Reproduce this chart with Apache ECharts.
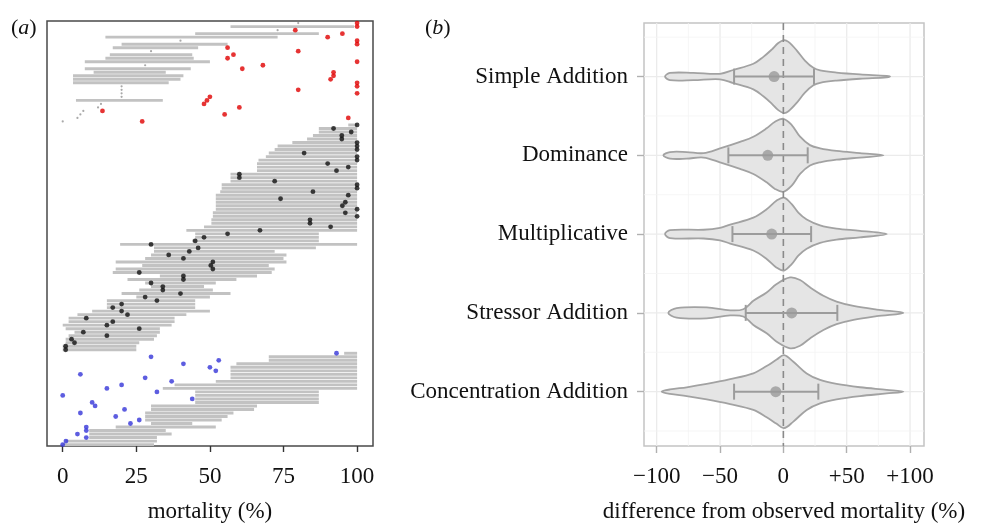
<!DOCTYPE html>
<html>
<head>
<meta charset="utf-8">
<script src="https://cdn.jsdelivr.net/npm/echarts@6/dist/echarts.min.js"></script>
<style>
  html, body { margin: 0; padding: 0; background: #fff; }
  #chart { width: 993px; height: 523px; }
</style>
</head>
<body>
<div id="chart"></div>
<script>
// ---- panel (a): predicted range (low-high) and observed mortality per study row ----
// rows where observed is above the predicted range
const redLow  = [80, 57, 73, 45, 14.5, 40, 20, 17, 30, 16, 14.5, 7.5, 28, 7.5, 10.5, 3.5, 3.5, 3.5, 20, 20, 20, 20, 4.5, 13, 12, 7, 6, 5, 0];
const redHigh = [80, 99, 73, 87, 73, 40, 56, 46, 30, 44, 44.5, 50, 28, 43.5, 35, 41, 40, 36, 20, 20, 20, 20, 34, 13, 12, 7, 6, 5, 0];
const redObs  = [100, 100, 79, 95, 90, 100, 100, 56, 80, 58, 56, 100, 68, 61, 92, 92, 91, 100, 100, 80, 100, 50, 49, 48, 60, 13.5, 55, 97, 27];

// rows where observed falls inside the predicted range
const blackLow  = [97, 87, 87, 85, 83, 78, 73, 72, 70, 69, 66.5, 66, 66, 66, 57, 57, 57, 54, 54, 53.5,
                   52, 52, 52, 52, 52, 51, 51, 50.5, 50.5, 48, 42, 45, 45, 44, 19.5, 31, 31, 30, 28, 18,
                   27, 18, 17, 33, 22, 28, 30, 26, 20, 25, 15, 15, 15, 10, 5, 2, 2, 0, 1, 4,
                   2, 1, 1, 0, 0];
const blackHigh = [100, 100, 100, 100, 100, 100, 100, 100, 100, 100, 100, 100, 100, 100, 100, 100, 100, 100, 100, 100,
                   100, 100, 100, 100, 100, 100, 100, 100, 100, 100, 100, 87, 87, 87, 100, 86, 72, 76, 75, 76,
                   70, 72, 71, 66, 59, 52, 48, 51, 57, 50, 45, 45, 45, 50, 42, 38, 38, 37, 33, 33,
                   32, 31, 26, 25, 25];
const blackObs  = [100, 92, 98, 94.8, 94.8, 100, 100, 100, 82, 100, 100, 90, 97, 93, 60, 60, 72, 100, 100, 85,
                   97, 74, 96, 95, 100, 96, 100, 84, 84, 91, 67, 56, 48, 45, 30, 46, 43, 36, 41, 51,
                   50.3, 51, 26, 41, 41, 30, 34, 34, 40, 28, 32, 20, 17, 20, 22, 8, 17, 15, 26, 7,
                   15, 3, 4, 1, 1];

// rows where observed is below the predicted range
const blueLow  = [95.6, 70, 70, 59, 57, 57, 57, 57, 52, 38, 34, 45, 45, 45, 45, 30, 30, 28, 28, 28, 30, 18, 9, 9, 9, 1, 0];
const blueHigh = [100, 100, 100, 100, 100, 100, 100, 100, 100, 100, 100, 87, 87, 87, 87, 66, 65, 58, 56, 54, 44, 52, 35, 37, 32, 32, 31];
const blueObs  = [93, 30, 53, 41, 50, 52, 6, 28, 37, 20, 15, 32, 0, 44, 10, 11, 21, 6, 18, 26, 23, 8, 8, 5, 8, 1.1, 0];

const mortalityTicks = [0, 25, 50, 75, 100];

// ---- panel (b): difference from observed mortality per model ----
const models = ['Simple Addition', 'Dominance', 'Multiplicative', 'Stressor Addition', 'Concentration Addition'];
const meanDiff = [-7.3, -12.3, -9.2, 6.6, -6];
const ciLow    = [-38.9, -43.4, -40.2, -29.7, -38.9];
const ciHigh   = [24.2, 19.2, 21.9, 42.6, 27.6];

// violin outlines: [difference, relative density]
const densSimple = [[-93.4, 0], [-89.5, 0.10], [-71, 0.10], [-50, 0.075], [-39.5, 0.18], [-23.7, 0.35], [-15.8, 0.54],
                    [-9.2, 0.74], [-4, 0.92], [0.5, 1], [4, 0.95], [10.5, 0.72], [17, 0.44], [23.7, 0.24], [29, 0.17],
                    [42, 0.11], [60.5, 0.06], [81.6, 0.02], [84.2, 0]];
const densDominance = [[-94.7, 0], [-89.5, 0.09], [-76.3, 0.09], [-63, 0.06], [-50, 0.19], [-34.2, 0.37], [-23.7, 0.51],
                       [-13.2, 0.74], [-6.6, 0.92], [0, 1], [6.6, 0.83], [13.2, 0.51], [21, 0.28], [29, 0.19],
                       [42, 0.12], [60.5, 0.06], [79, 0]];
const densMultiplicative = [[-93.4, 0], [-89.5, 0.11], [-63, 0.12], [-50, 0.17], [-42, 0.26], [-23.7, 0.45], [-13.2, 0.68],
                            [-5.3, 0.92], [0.5, 1], [6.6, 0.82], [11.8, 0.59], [18.4, 0.4], [29, 0.24], [42, 0.15],
                            [60.5, 0.09], [81.6, 0]];
const densStressor = [[-90.8, 0], [-84.2, 0.13], [-60.5, 0.15], [-42, 0.07], [-31.6, 0.1], [-23.7, 0.33], [-13.2, 0.56],
                      [-5.3, 0.79], [5.3, 0.97], [13.2, 0.9], [21, 0.7], [31.6, 0.47], [42, 0.31], [55.3, 0.19],
                      [73.7, 0.09], [94.7, 0]];
const densConcentration = [[-96, 0], [-89.5, 0.06], [-76.3, 0.12], [-60.5, 0.21], [-42, 0.34], [-23.7, 0.5], [-13.2, 0.7],
                           [-5.3, 0.88], [0.5, 1], [7.9, 0.82], [18.4, 0.5], [29, 0.32], [42, 0.21], [60.5, 0.12],
                           [81.6, 0.05], [94.7, 0]];
const violins = [densSimple, densDominance, densMultiplicative, densStressor, densConcentration];

const diffTicks = [-100, -50, 0, 50, 100];
const diffTickLabels = ['\u2212100', '\u221250', '0', '+50', '+100'];
const diffMinor = [-75, -25, 25, 75];
const modelPos = [1, 2, 3, 4, 5];
const modelMinor = [0.5, 1.5, 2.5, 3.5, 4.5, 5.5];

// ------------------------------------------------------------------
const FONT = 'Liberation Serif';
const VIOLIN_HALF = 36.5;

function rowsOf(lo, hi, obs, offset) {
  return lo.map((v, i) => [v, hi[i], offset + i, obs[i]]);
}
const redRows = rowsOf(redLow, redHigh, redObs, 0);
const blackRows = rowsOf(blackLow, blackHigh, blackObs, redLow.length);
const blueRows = rowsOf(blueLow, blueHigh, blueObs, redLow.length + blackLow.length);
const allRows = redRows.concat(blackRows, blueRows);
const nRows = allRows.length;

const gridLines = []
  .concat(diffTicks.map(v => [v, 1, 0, 1]))
  .concat(diffMinor.map(v => [v, 1, 0, 0]))
  .concat(modelPos.map(v => [0, v, 1, 1]))
  .concat(modelMinor.map(v => [0, v, 1, 0]));

const panelTag = {
  p: { fontFamily: FONT, fontSize: 22, fontWeight: 'normal', color: '#111' },
  i: { fontFamily: FONT, fontSize: 22, fontWeight: 'normal', fontStyle: 'italic', color: '#111' }
};

const chart = echarts.init(document.getElementById('chart'));
chart.setOption({
  animation: false,
  backgroundColor: '#fff',
  title: [
    { text: '{p|(}{i|a}{p|)}', left: 6, top: 12, textStyle: { fontWeight: 'normal', rich: panelTag } },
    { text: '{p|(}{i|b}{p|)}', left: 420, top: 12, textStyle: { fontWeight: 'normal', rich: panelTag } }
  ],
  grid: [
    { left: 47, top: 21, width: 326, height: 425, show: true, borderColor: '#4a4a4a', borderWidth: 1.5,
      containLabel: false, outerBoundsMode: 'none' },
    { left: 644, top: 23, width: 280, height: 423, show: true, borderColor: '#c4c4c4', borderWidth: 1.5,
      containLabel: false, outerBoundsMode: 'none' }
  ],
  xAxis: [
    {
      gridIndex: 0, type: 'value', min: -5.34, max: 105.4, position: 'bottom',
      axisLine: { show: false, onZero: false },
      axisTick: { show: true, customValues: mortalityTicks, length: 6, lineStyle: { color: '#333', width: 1.4 } },
      axisLabel: { customValues: mortalityTicks, fontFamily: FONT, fontSize: 23, color: '#111', margin: 19 },
      splitLine: { show: false },
      name: 'mortality (%)', nameLocation: 'middle', nameGap: 54,
      nameTextStyle: { fontFamily: FONT, fontSize: 23, color: '#111' }
    },
    {
      gridIndex: 1, type: 'value', min: -110, max: 111, position: 'bottom',
      axisLine: { show: false, onZero: false },
      axisTick: { show: true, customValues: diffTicks, length: 7, lineStyle: { color: '#b0b0b0', width: 1.4 } },
      axisLabel: {
        customValues: diffTicks, fontFamily: FONT, fontSize: 23, color: '#111', margin: 19,
        formatter: v => diffTickLabels[diffTicks.indexOf(v)]
      },
      splitLine: { show: false },
      name: 'difference from observed mortality (%)', nameLocation: 'middle', nameGap: 54,
      nameTextStyle: { fontFamily: FONT, fontSize: 23, color: '#111' }
    }
  ],
  yAxis: [
    { gridIndex: 0, type: 'value', inverse: true, min: -0.6, max: nRows - 0.6, show: false },
    {
      gridIndex: 1, type: 'value', inverse: true, min: 0.32, max: 5.69,
      axisLine: { show: false, onZero: false },
      axisTick: { show: true, customValues: modelPos, length: 7, lineStyle: { color: '#b0b0b0', width: 1.4 } },
      axisLabel: {
        customValues: modelPos, fontFamily: FONT, fontSize: 23, color: '#111', margin: 16,
        formatter: v => models[v - 1]
      },
      splitLine: { show: false }
    }
  ],
  series: [
    // panel (a) range lines
    {
      type: 'custom', xAxisIndex: 0, yAxisIndex: 0, z: 2, silent: true,
      data: allRows, encode: { x: [0, 1], y: 2 },
      renderItem: (params, api) => {
        const a = api.coord([api.value(0), api.value(2)]);
        const b = api.coord([api.value(1), api.value(2)]);
        if (b[0] - a[0] < 1) {
          return { type: 'circle', shape: { cx: a[0], cy: a[1], r: 1.1 }, style: { fill: '#a9a9a9' } };
        }
        return { type: 'line', shape: { x1: a[0], y1: a[1], x2: b[0], y2: b[1] },
                 style: { stroke: '#c2c2c2', lineWidth: 2.9 } };
      }
    },
    { type: 'scatter', xAxisIndex: 0, yAxisIndex: 0, z: 3, symbolSize: 4.8,
      itemStyle: { color: '#e00000' }, data: redRows.map(r => [r[3], r[2]]) },
    { type: 'scatter', xAxisIndex: 0, yAxisIndex: 0, z: 3, symbolSize: 4.8,
      itemStyle: { color: '#111111' }, data: blackRows.map(r => [r[3], r[2]]) },
    { type: 'scatter', xAxisIndex: 0, yAxisIndex: 0, z: 3, symbolSize: 4.8,
      itemStyle: { color: '#3535d8' }, data: blueRows.map(r => [r[3], r[2]]) },

    // panel (b) grid lines
    {
      type: 'custom', xAxisIndex: 1, yAxisIndex: 1, z: 1, silent: true,
      data: gridLines,
      renderItem: (params, api) => {
        const cs = params.coordSys;
        const major = api.value(3) === 1;
        const style = { stroke: major ? '#ebebeb' : '#f4f4f4', lineWidth: major ? 1.3 : 0.8 };
        if (api.value(2) === 0) {
          const x = api.coord([api.value(0), 1])[0];
          return { type: 'line', shape: { x1: x, y1: cs.y, x2: x, y2: cs.y + cs.height }, style };
        }
        const y = api.coord([0, api.value(1)])[1];
        return { type: 'line', shape: { x1: cs.x, y1: y, x2: cs.x + cs.width, y2: y }, style };
      }
    },
    // violins
    {
      type: 'custom', xAxisIndex: 1, yAxisIndex: 1, z: 2, silent: true,
      data: models.map((m, k) => [meanDiff[k], k + 1, k]),
      renderItem: (params, api) => {
        const k = api.value(2);
        const top = [], bot = [];
        violins[k].forEach(([x, d]) => {
          const c = api.coord([x, k + 1]);
          top.push([c[0], c[1] - d * VIOLIN_HALF]);
          if (d > 0) bot.push([c[0], c[1] + d * VIOLIN_HALF]);
        });
        return { type: 'polygon', shape: { points: top.concat(bot.reverse()), smooth: 0.35 },
                 style: { fill: '#e5e5e5', stroke: '#a2a2a2', lineWidth: 1.8 } };
      }
    },
    // zero line
    {
      type: 'custom', xAxisIndex: 1, yAxisIndex: 1, z: 3, silent: true,
      data: [[0, 1]],
      renderItem: (params, api) => {
        const cs = params.coordSys;
        const x = api.coord([api.value(0), 1])[0];
        return { type: 'line', shape: { x1: x, y1: cs.y, x2: x, y2: cs.y + cs.height },
                 style: { stroke: '#8a8a8a', lineWidth: 1.6, lineDash: [7, 5] } };
      }
    },
    // error bars
    {
      type: 'custom', xAxisIndex: 1, yAxisIndex: 1, z: 4, silent: true,
      data: models.map((m, k) => [ciLow[k], ciHigh[k], k + 1]),
      encode: { x: [0, 1], y: 2 },
      renderItem: (params, api) => {
        const a = api.coord([api.value(0), api.value(2)]);
        const b = api.coord([api.value(1), api.value(2)]);
        const style = { stroke: '#9c9c9c', lineWidth: 2 };
        return { type: 'group', children: [
          { type: 'line', shape: { x1: a[0], y1: a[1], x2: b[0], y2: b[1] }, style },
          { type: 'line', shape: { x1: a[0], y1: a[1] - 8, x2: a[0], y2: a[1] + 8 }, style },
          { type: 'line', shape: { x1: b[0], y1: b[1] - 8, x2: b[0], y2: b[1] + 8 }, style }
        ] };
      }
    },
    // mean difference
    { type: 'scatter', xAxisIndex: 1, yAxisIndex: 1, z: 5, symbolSize: 11,
      itemStyle: { color: '#9a9a9a' }, data: models.map((m, k) => [meanDiff[k], k + 1]) }
  ]
});
</script>
</body>
</html>
